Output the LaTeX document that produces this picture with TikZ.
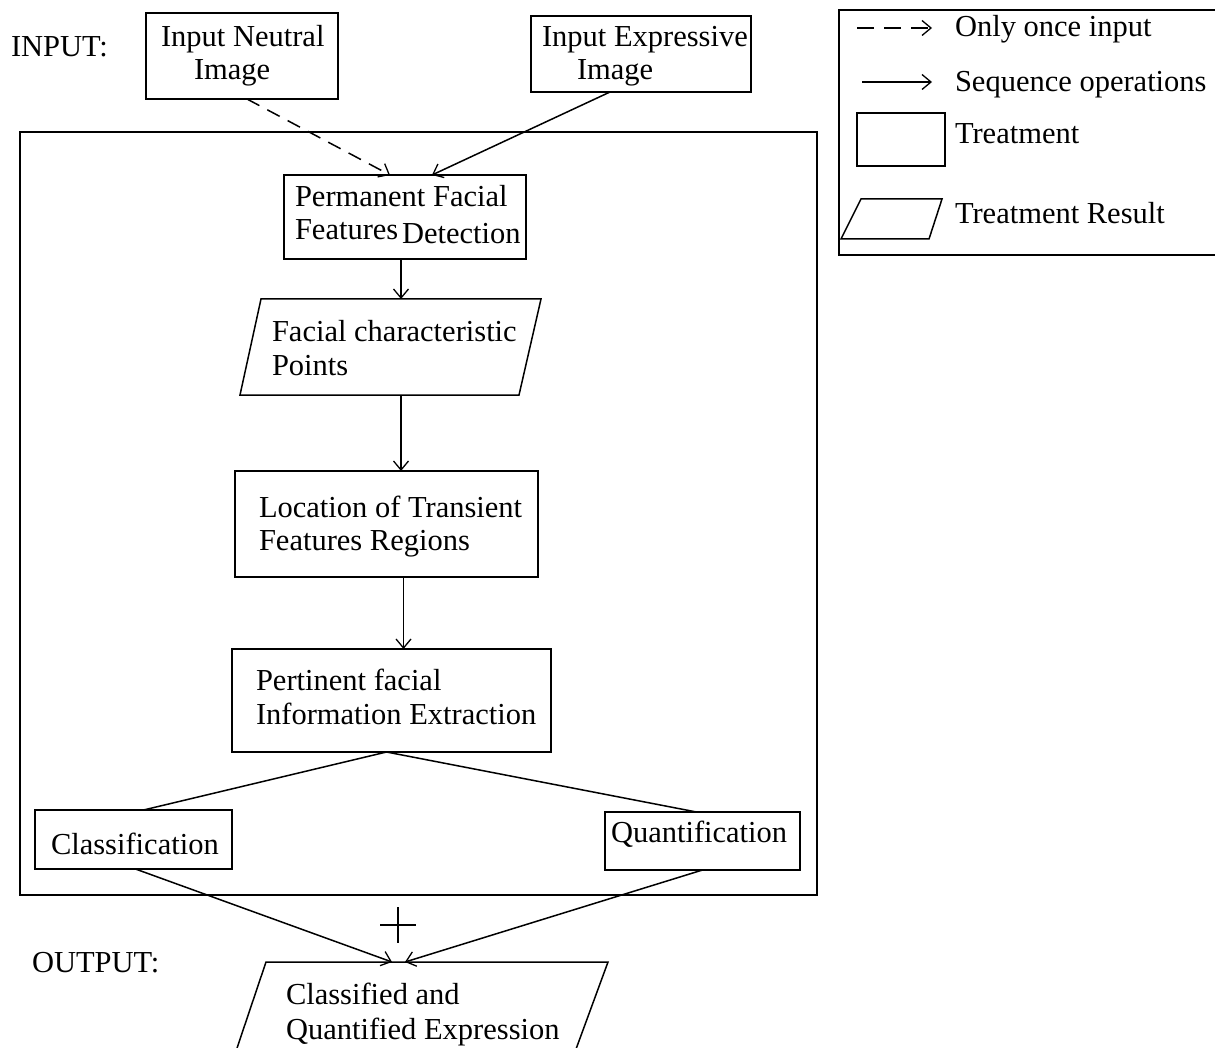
\documentclass[tikz,border=0pt]{standalone}
\usepackage{fontspec}
\setmainfont{Liberation Serif}
\usetikzlibrary{arrows.meta}
\begin{document}
\begin{tikzpicture}[x=1pt,y=-1pt,line width=1.5pt,
  every node/.style={font=\fontsize{30.5}{34}\selectfont},
  txt/.style={anchor=base west,inner sep=0pt,outer sep=0pt,yshift=-2pt},
  boxnode/.style={draw,anchor=north west,inner sep=0pt,outer sep=0pt},
  tip/.style={-{Straight Barb[length=9pt,width=15pt,line width=1.3pt]}},
  dashline/.style={dash pattern=on 14pt off 9pt}]
\useasboundingbox (0,0) rectangle (1215,1048);
\clip (0,0) rectangle (1215,1048);

% main frame
\node[boxnode,minimum width=797pt,minimum height=763pt] (frame) at (20,132) {};

% INPUT
\node[txt] (inlbl) at (11,55) {INPUT:};
\node[boxnode,minimum width=192pt,minimum height=86pt] (neutral) at (146,13) {};
\node[txt] (neutralA) at (161,45) {Input Neutral};
\node[txt] (neutralB) at (194,78) {Image};
\node[boxnode,minimum width=220pt,minimum height=76pt] (expr) at (531,16) {};
\node[txt] (exprA) at (542,45) {Input Expressive};
\node[txt] (exprB) at (577,78) {Image};

% Permanent facial features detection
\node[boxnode,minimum width=242pt,minimum height=84pt] (perm) at (284,175) {};
\node[txt] (permA) at (295,205) {Permanent Facial};
\node[txt] (permB) at (295,238) {Features};
\node[txt] (permC) at (402,242) {Detection};

% Facial characteristic points (parallelogram)
\draw (261,299) -- (541,299) -- (519,395) -- (240,395) -- cycle;
\coordinate (fcpTop) at (401,299);
\coordinate (fcpBot) at (401,395);
\node[txt] (fcpA) at (272,340) {Facial characteristic};
\node[txt] (fcpB) at (272,373) {Points};

% Location of transient features regions
\node[boxnode,minimum width=303pt,minimum height=106pt] (loc) at (235,471) {};
\node[txt] (locA) at (259,515) {Location of Transient};
\node[txt] (locB) at (259,548) {Features Regions};

% Pertinent facial information extraction
\node[boxnode,minimum width=319pt,minimum height=103pt] (pert) at (232,649) {};
\node[txt] (pertA) at (256,688) {Pertinent facial};
\node[txt] (pertB) at (256,722) {Information Extraction};

% Classification / Quantification
\node[boxnode,minimum width=197pt,minimum height=59pt] (class) at (35,810) {};
\node[txt] (classA) at (51,852) {Classification};
\node[boxnode,minimum width=195pt,minimum height=58pt] (quant) at (605,812) {};
\node[txt] (quantA) at (611,840) {Quantification};

% plus sign
\coordinate (plusL) at (380,925);
\coordinate (plusR) at (416,925);
\coordinate (plusT) at (398,907);
\coordinate (plusB) at (398,943);
\draw (plusL) -- (plusR);
\draw (plusT) -- (plusB);

% OUTPUT
\node[txt] (outlbl) at (32,970) {OUTPUT:};
\draw (233,1060) -- (266,962) -- (608,962) -- (572,1060);
\node[txt] (outA) at (286,1002) {Classified and};
\node[txt] (outB) at (286,1037) {Quantified Expression};
\coordinate (outL) at (392,962);
\coordinate (outR) at (405,962);

% connectors
\draw[tip,dashline] ([xshift=5pt]neutral.south) -- ([xshift=-15pt]perm.north);
\draw[tip] ([xshift=-31pt]expr.south) -- ([xshift=27pt]perm.north);
\draw[tip] (perm.south -| fcpTop) -- (fcpTop);
\draw[tip] (fcpBot) -- (fcpBot |- loc.north);
\draw[tip] ([xshift=17pt]loc.south) -- ([xshift=12pt]pert.north);
\draw ([xshift=-5pt]pert.south) -- ([xshift=10pt]class.north);
\draw ([xshift=-5pt]pert.south) -- ([xshift=-6pt]quant.north);
\draw[tip] ([xshift=2pt]class.south) -- (outL);
\draw[tip] (quant.south) -- (outR);

% legend
\draw (1230,10) -- (839,10) -- (839,255) -- (1230,255);
\coordinate (l1a) at (857,28);
\coordinate (l1b) at (932,28);
\draw[tip,dash pattern=on 17pt off 10pt] (l1a) -- (l1b);
\node[txt] (l1t) at (955,35) {Only once input};
\coordinate (l2a) at (862,82);
\coordinate (l2b) at (932,82);
\draw[tip] (l2a) -- (l2b);
\node[txt] (l2t) at (955,90) {Sequence operations};
\node[boxnode,minimum width=88pt,minimum height=53pt] (l3box) at (857,113) {};
\node[txt] (l3t) at (955,142) {Treatment};
\draw (861,199) -- (942,199) -- (929,239) -- (841,239) -- cycle;
\node[txt] (l4t) at (955,222) {Treatment Result};
\end{tikzpicture}
\end{document}
